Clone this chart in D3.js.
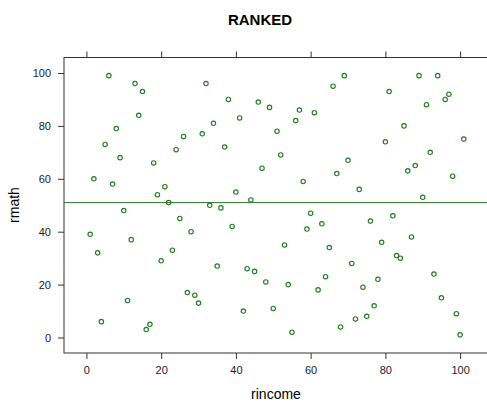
<!DOCTYPE html>
<html>
<head>
<meta charset="utf-8">
<script src="https://cdn.jsdelivr.net/npm/d3@7"></script>
<style>
  html, body { margin: 0; padding: 0; background: #fff; }
  svg { display: block; font-family: Arial, "Liberation Sans", sans-serif; }
</style>
</head>
<body>
<svg id="chart" width="487" height="404"></svg>
<script>
const rincome = [1,2,3,4,5,6,7,8,9,10,11,12,13,14,15,16,17,18,19,20,
  21,22,23,24,25,26,27,28,29,30,31,32,33,34,35,36,37,38,39,40,
  41,42,43,44,45,46,47,48,49,50,51,52,53,54,55,56,57,58,59,60,
  61,62,63,64,65,66,67,68,69,70,71,72,73,74,75,76,77,78,79,80,
  81,82,83,84,85,86,87,88,89,90,91,92,93,94,95,96,97,98,99,100,101];
const rmath = [39,60,32,6,73,99,58,79,68,48,14,37,96,84,93,3,5,66,54,29,
  57,51,33,71,45,76,17,40,16,13,77,96,50,81,27,49,72,90,42,55,
  83,10,26,52,25,89,64,21,87,11,78,69,35,20,2,82,86,59,41,47,
  85,18,43,23,34,95,62,4,99,67,28,7,56,19,8,44,12,22,36,74,
  93,46,31,30,80,63,38,65,99,53,88,70,24,99,15,90,92,61,9,1,75];
const xTicks = [0,20,40,60,80,100];
const yTicks = [0,20,40,60,80,100];
const refLine = 51;
const title = "RANKED";
const xLabel = "rincome";
const yLabel = "rmath";

const svg = d3.select("#chart");
const pLeft = 64, pRight = 490, pTop = 57.5, pBottom = 353;
const x = d3.scaleLinear().domain([-6, 108]).range([pLeft, pRight]);
const y = d3.scaleLinear().domain([-5.86, 105.86]).range([pBottom, pTop]);
const axisColor = "#333";

// frame
svg.append("rect")
  .attr("x", pLeft).attr("y", pTop)
  .attr("width", pRight - pLeft).attr("height", pBottom - pTop)
  .attr("fill", "none").attr("stroke", axisColor).attr("stroke-width", 1);

// axes
const gx = svg.append("g").attr("transform", `translate(0,${pBottom})`)
  .call(d3.axisBottom(x).tickValues(xTicks).tickSize(6).tickSizeOuter(0).tickPadding(5));
const gxt = svg.append("g").attr("transform", `translate(0,${pTop})`)
  .call(d3.axisTop(x).tickValues(xTicks).tickSize(6).tickSizeOuter(0).tickFormat(""));
const gy = svg.append("g").attr("transform", `translate(${pLeft},0)`)
  .call(d3.axisLeft(y).tickValues(yTicks).tickSize(6).tickSizeOuter(0).tickPadding(7));
[gx, gxt, gy].forEach(g => {
  g.select(".domain").remove();
  g.selectAll("line").attr("stroke", axisColor);
  g.selectAll("text").attr("fill", "#1a1a2a").style("font-size", "11px")
    .style("font-family", "Arial, 'Liberation Sans', sans-serif");
});
gx.selectAll("text").attr("dy", "0.9em");
gy.selectAll("text").attr("dy", "0.35em");

// reference line
svg.append("line")
  .attr("x1", pLeft).attr("x2", pRight)
  .attr("y1", y(refLine)).attr("y2", y(refLine))
  .attr("stroke", "#2a762a").attr("stroke-width", 1);

// points
svg.append("g").selectAll("circle")
  .data(rincome.map((d, i) => [d, rmath[i]]))
  .join("circle")
  .attr("cx", d => x(d[0])).attr("cy", d => y(d[1]))
  .attr("r", 2.2)
  .attr("fill", "none").attr("stroke", "#1e7f1e").attr("stroke-width", 1.15);

// title and labels
svg.append("text").attr("x", 260).attr("y", 25)
  .attr("text-anchor", "middle").style("font-weight", "bold").style("font-size", "15px")
  .attr("fill", "#000").text(title);
svg.append("text").attr("x", 276).attr("y", 399)
  .attr("text-anchor", "middle").style("font-size", "14px").attr("fill", "#000").text(xLabel);
svg.append("text").attr("transform", "translate(19,205) rotate(-90)")
  .attr("text-anchor", "middle").style("font-size", "14px").attr("fill", "#000").text(yLabel);
</script>
</body>
</html>
